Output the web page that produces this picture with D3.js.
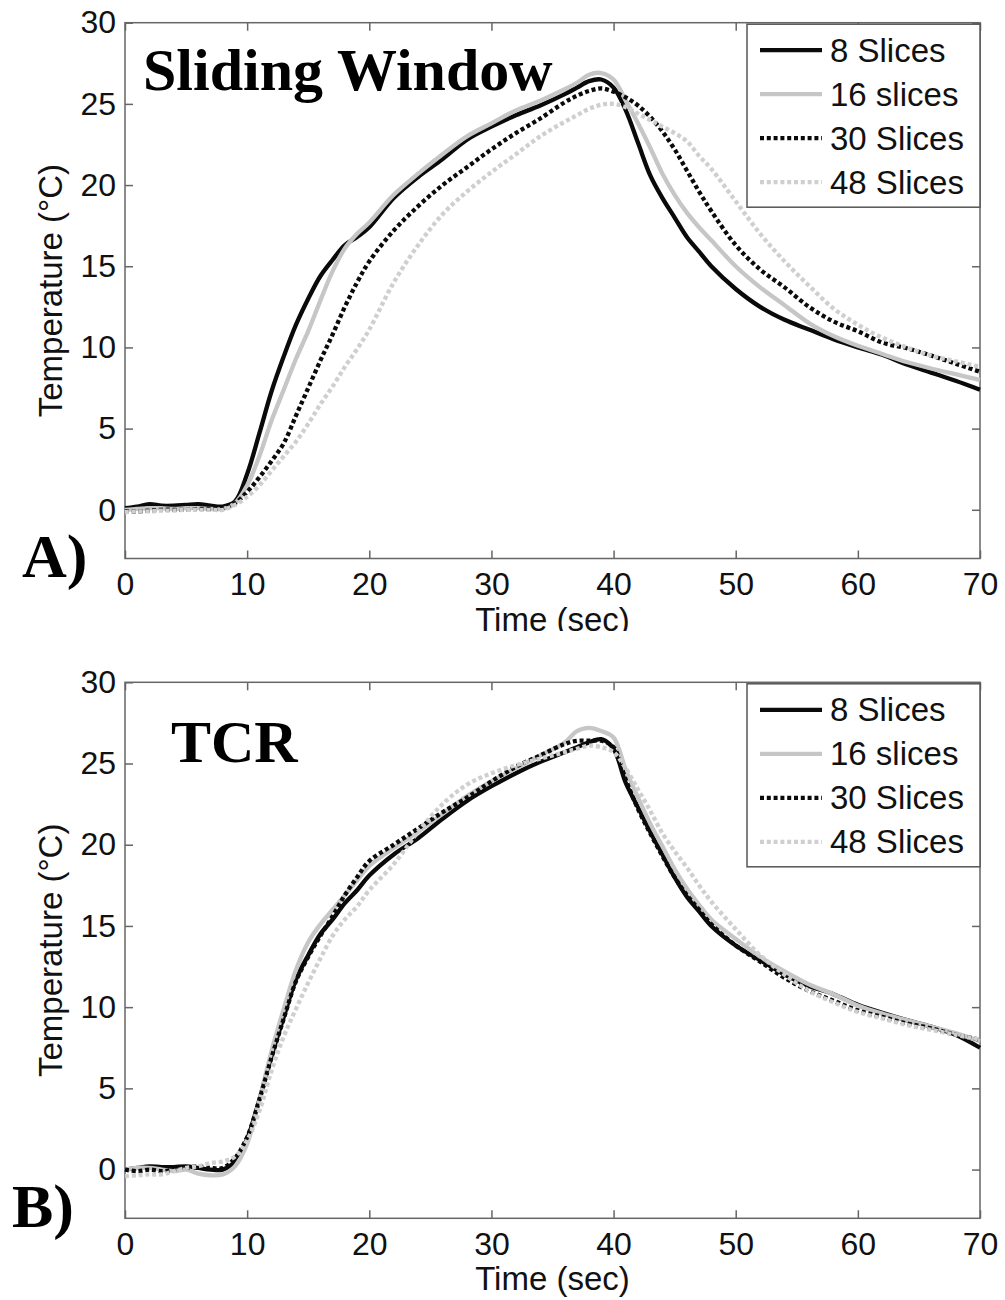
<!DOCTYPE html>
<html>
<head>
<meta charset="utf-8">
<script src="https://cdn.jsdelivr.net/npm/d3@7"></script>
<style>
  body { margin: 0; background: #fff; }
  svg { display: block; }
  .tick text { font-family: "Liberation Sans", Arial, sans-serif; font-size: 32px; fill: #111; }
</style>
</head>
<body>
<svg id="chart" width="1005" height="1300"></svg>
<script>
// time axis shared by every curve (seconds)
const timeSec = [0,1,2,3,4,5,6,7,8,9,10,11,12,13,14,15,16,17,18,19,20,22,24,26,28,30,32,34,36,37,38,39,40,41,42,43,44,45,46,47,48,50,52,54,56,58,60,62,64,66,68,70];

// A) Sliding window
const sw8  = [0.1,0.2,0.35,0.25,0.25,0.3,0.35,0.25,0.2,0.5,2.2,4.7,7.3,9.45,11.4,13.0,14.4,15.4,16.3,16.8,17.4,19.2,20.5,21.6,22.8,23.6,24.3,24.9,25.6,26.0,26.4,26.5,26.0,24.6,22.6,20.6,19.2,18.0,16.8,15.9,15.0,13.6,12.5,11.7,11.1,10.5,10.0,9.55,8.95,8.45,7.95,7.4];
const sw16 = [0.0,0.05,0.1,0.1,0.05,0.1,0.1,0.05,0.05,0.4,1.5,3.3,5.5,7.4,9.3,11.0,12.9,14.7,16.1,17.0,17.7,19.4,20.7,21.9,23.0,23.8,24.6,25.2,25.9,26.3,26.8,26.9,26.5,25.2,23.8,22.3,20.7,19.4,18.3,17.4,16.6,15.0,13.7,12.6,11.5,10.7,10.1,9.6,9.1,8.7,8.35,8.0];
const sw30 = [-0.1,-0.1,-0.05,0.0,0.0,0.0,0.05,0.05,0.1,0.4,1.1,2.0,3.0,4.1,5.8,7.5,9.2,10.8,12.5,14.0,15.3,17.2,18.7,20.0,21.1,22.2,23.2,24.1,25.1,25.5,25.8,25.95,25.75,25.4,24.9,24.2,23.3,22.2,20.9,19.6,18.4,16.3,14.8,13.7,12.5,11.6,11.0,10.3,9.95,9.5,9.0,8.5];
const sw48 = [-0.15,-0.1,-0.1,-0.05,-0.05,0.0,0.0,0.0,0.0,0.3,0.8,1.5,2.4,3.3,4.2,5.3,6.5,7.6,8.8,9.9,11.1,14.0,16.3,18.2,19.6,20.8,21.9,23.0,23.9,24.3,24.7,24.95,25.0,24.8,24.4,24.0,23.6,23.2,22.7,21.8,21.0,19.0,17.0,15.3,13.8,12.4,11.4,10.6,10.0,9.5,9.15,8.8];

// B) TCR
const tcr8  = [0.0,0.1,0.2,0.15,0.15,0.2,0.1,0.0,0.0,0.5,1.9,4.3,7.0,9.4,11.7,13.2,14.5,15.4,16.4,17.2,18.1,19.4,20.4,21.6,22.7,23.6,24.4,25.1,25.7,26.0,26.3,26.5,25.9,23.8,22.3,20.8,19.4,18.0,16.8,15.9,15.0,13.8,12.9,12.0,11.3,10.8,10.15,9.65,9.2,8.8,8.3,7.5];
const tcr16 = [0.0,0.1,0.1,0.0,-0.1,0.0,-0.25,-0.35,-0.3,0.2,1.6,4.3,7.3,9.9,12.3,14.0,15.1,16.0,16.9,17.8,18.7,19.8,20.8,21.9,23.0,23.9,24.7,25.5,26.3,27.0,27.2,27.0,26.6,24.6,22.9,21.3,19.9,18.5,17.3,16.3,15.4,14.2,13.1,12.2,11.4,10.8,10.1,9.6,9.2,8.8,8.4,7.9];
const tcr30 = [0.0,-0.1,0.0,-0.1,0.0,0.1,0.2,0.1,0.1,0.7,2.0,4.3,6.9,9.3,11.6,13.1,14.4,15.6,16.9,18.0,19.0,20.0,21.0,22.0,22.9,23.9,24.8,25.5,26.2,26.4,26.4,26.4,26.0,24.0,22.2,20.7,19.3,18.0,16.9,16.0,15.1,13.8,12.8,11.8,11.0,10.4,9.8,9.4,9.0,8.7,8.3,8.0];
const tcr48 = [-0.4,-0.35,-0.3,-0.3,-0.1,0.1,0.2,0.4,0.5,0.8,1.8,3.6,6.1,8.2,9.9,11.5,13.0,14.4,15.4,16.2,17.2,18.8,20.8,22.5,23.7,24.4,24.9,25.3,25.7,25.9,26.1,26.0,25.7,24.7,23.4,22.1,20.7,19.6,18.6,17.5,16.5,14.8,13.2,12.0,11.0,10.3,9.7,9.3,8.9,8.6,8.3,8.0];

const seriesNames = ["8 Slices", "16 slices", "30 Slices", "48 Slices"];
const xTicks = [0, 10, 20, 30, 40, 50, 60, 70];
const yTicks = [0, 5, 10, 15, 20, 25, 30];

// line looks per series (MATLAB style: black/gray, solid/dotted)
const lineColor = ["#0a0a0a", "#c6c6c6", "#0a0a0a", "#cfcfcf"];
const lineDash  = [null, null, "4,2.8", "4,2.8"];

const svg = d3.select("#chart");
const left = 125, right = 980;
const x = d3.scaleLinear().domain([0, 70]).range([left, right]);

const serif = '"Liberation Serif", "Times New Roman", serif';
const sans = '"Liberation Sans", Arial, sans-serif';

svg.append("defs").append("clipPath").attr("id", "cutA")
  .append("rect").attr("x", 0).attr("y", 0).attr("width", 1005).attr("height", 631);

function drawPanel(top, bottom, values, title, titleX, titleY, letter, letterX, letterY, clipLabel) {
  const y = d3.scaleLinear().domain([-3, 30]).range([bottom, top]);
  const g = svg.append("g");

  // axes: ticks inside on all four sides
  const ax = (axis, tx, ty) => {
    const a = g.append("g").attr("transform", `translate(${tx},${ty})`).call(axis);
    a.select(".domain").remove();
    a.selectAll(".tick line").attr("stroke", "#666").attr("stroke-width", 1.5);
    return a;
  };
  ax(d3.axisBottom(x).tickValues(xTicks).tickSize(-8).tickPadding(14).tickFormat(d3.format("d")), 0, bottom);
  ax(d3.axisTop(x).tickValues(xTicks).tickSize(-8).tickFormat(""), 0, top);
  ax(d3.axisLeft(y).tickValues(yTicks).tickSize(-8).tickPadding(9).tickFormat(d3.format("d")), left, 0);
  ax(d3.axisRight(y).tickValues(yTicks).tickSize(-8).tickFormat(""), right, 0);

  g.append("rect")
    .attr("x", left).attr("y", top)
    .attr("width", right - left).attr("height", bottom - top)
    .attr("fill", "none").attr("stroke", "#666").attr("stroke-width", 1.5);

  const line = d3.line()
    .x((d, i) => x(timeSec[i]))
    .y(d => y(d))
    .curve(d3.curveCatmullRom);

  values.forEach((vals, i) => {
    g.append("path")
      .datum(vals)
      .attr("d", line)
      .attr("fill", "none")
      .attr("stroke", lineColor[i])
      .attr("stroke-width", 4.3)
      .attr("stroke-dasharray", lineDash[i])
      .attr("stroke-linejoin", "round");
  });

  // legend
  const lx = 747, ly = top + 1.5, lw = right - lx, lh = 183;
  const leg = g.append("g");
  leg.append("rect")
    .attr("x", lx).attr("y", ly).attr("width", lw).attr("height", lh)
    .attr("fill", "#fff").attr("stroke", "#555").attr("stroke-width", 1.5);
  seriesNames.forEach((name, i) => {
    const cy = top + 27.5 + i * 44;
    leg.append("line")
      .attr("x1", 760).attr("x2", 822).attr("y1", cy).attr("y2", cy)
      .attr("stroke", lineColor[i]).attr("stroke-width", 4.3)
      .attr("stroke-dasharray", lineDash[i]);
    leg.append("text")
      .attr("x", 830).attr("y", cy + 11.5)
      .attr("font-family", sans).attr("font-size", 33).attr("fill", "#111")
      .text(name);
  });

  // titles and axis labels
  g.append("text")
    .attr("x", titleX).attr("y", titleY)
    .attr("font-family", serif).attr("font-weight", "bold").attr("font-size", 60)
    .attr("fill", "#000").text(title);

  g.append("text")
    .attr("x", letterX).attr("y", letterY)
    .attr("font-family", serif).attr("font-weight", "bold").attr("font-size", 62)
    .attr("fill", "#000").text(letter);

  g.append("text")
    .attr("transform", `translate(62,${(top + bottom) / 2}) rotate(-90)`)
    .attr("text-anchor", "middle")
    .attr("font-family", sans).attr("font-size", 33).attr("fill", "#111")
    .text("Temperature (\u00B0C)");

  const xl = g.append("text")
    .attr("x", (left + right) / 2).attr("y", bottom + 72)
    .attr("text-anchor", "middle")
    .attr("font-family", sans).attr("font-size", 33).attr("fill", "#111")
    .text("Time (sec)");
  if (clipLabel) xl.attr("clip-path", "url(#cutA)");
}

drawPanel(22.7, 558.5, [sw8, sw16, sw30, sw48], "Sliding Window", 143, 90, "A)", 22, 577, true);
drawPanel(682.3, 1218.3, [tcr8, tcr16, tcr30, tcr48], "TCR", 171, 762, "B)", 12, 1227, false);
</script>
</body>
</html>
